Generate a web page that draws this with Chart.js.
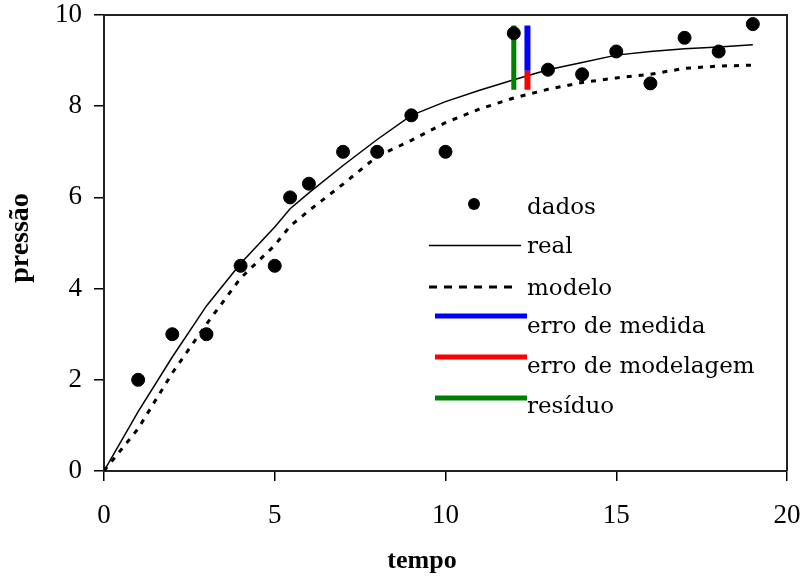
<!DOCTYPE html>
<html>
<head>
<meta charset="utf-8">
<script src="https://cdn.jsdelivr.net/npm/chart.js@4"></script>
<style>
html, body { margin: 0; padding: 0; background: #fff; }
</style>
</head>
<body>
<canvas id="chart" width="804" height="577"></canvas>
<script>
// measured points
var dataTime = [1, 2, 3, 4, 5, 5.45, 6, 7, 8, 9, 10, 12, 13, 14, 15, 16, 17, 18, 19];
var dataPressure = [2.0, 3.0, 3.0, 4.5, 4.5, 6.0, 6.3, 7.0, 7.0, 7.8, 7.0, 9.6, 8.8, 8.7, 9.2, 8.5, 9.5, 9.2, 9.8];

// curves
var curveTime = [0, 1, 2, 3, 4, 5, 5.45, 6, 7, 8, 9, 10, 11, 12, 13, 14, 15, 16, 17, 18, 19];
var realPressure = [0, 1.3, 2.5, 3.62, 4.55, 5.35, 5.75, 6.1, 6.7, 7.27, 7.8, 8.1, 8.35, 8.58, 8.8, 8.96, 9.12, 9.2, 9.26, 9.3, 9.35];
var modelPressure = [0, 0.93, 2.15, 3.22, 4.23, 4.95, 5.37, 5.71, 6.29, 6.9, 7.25, 7.64, 7.94, 8.18, 8.37, 8.52, 8.62, 8.7, 8.83, 8.88, 8.9];

// error bars: [x, yTop, yBottom]
var residuo = [12, 9.77, 8.36];
var erroMedida = [12.4, 9.77, 8.78];
var erroModelagem = [12.4, 8.78, 8.36];

var xTicks = [0, 5, 10, 15, 20];
var yTicks = [0, 2, 4, 6, 8, 10];

var toXY = function (xs, ys) {
    return xs.map((x, i) => ({x: x, y: ys[i]}));
};
var bar = function (b) {
    return [{x: b[0], y: b[1]}, {x: b[0], y: b[2]}];
};

var serif = "'Liberation Serif', 'Times New Roman', serif";

// legend, axis titles and the frame
var extras = {
    id: 'extras',
    afterDraw: function (chart) {
        var ctx = chart.ctx;
        var a = chart.chartArea;
        ctx.save();
        ctx.strokeStyle = '#222';
        ctx.lineWidth = 2;
        ctx.beginPath();
        ctx.moveTo(a.left, a.top);
        ctx.lineTo(a.right, a.top);
        ctx.lineTo(a.right, a.bottom);
        ctx.stroke();

        ctx.fillStyle = '#000';
        ctx.font = "bold 26px " + serif;
        ctx.textAlign = 'center';
        ctx.textBaseline = 'alphabetic';
        ctx.fillText('tempo', 422, 568);

        ctx.save();
        ctx.translate(28, 238);
        ctx.rotate(-Math.PI / 2);
        ctx.font = "bold 28px " + serif;
        ctx.fillText('pressão', 0, 0);
        ctx.restore();

        ctx.textAlign = 'left';
        ctx.font = "23px 'DejaVu Serif', serif";
        ctx.beginPath();
        ctx.arc(474, 204, 6, 0, Math.PI * 2);
        ctx.fill();
        ctx.fillText('dados', 527, 214);

        var seg = function (x1, x2, y, w, color, dash) {
            ctx.save();
            ctx.strokeStyle = color;
            ctx.lineWidth = w;
            ctx.setLineDash(dash || []);
            ctx.beginPath();
            ctx.moveTo(x1, y);
            ctx.lineTo(x2, y);
            ctx.stroke();
            ctx.restore();
        };
        seg(429, 521, 245.5, 1.5, '#000');
        ctx.fillText('real', 527, 253);
        seg(429, 519, 287, 3, '#000', [8, 7]);
        ctx.fillText('modelo', 527, 295);
        seg(435, 527, 316, 5, '#0000ff');
        ctx.fillText('erro de medida', 527, 333);
        seg(435, 527, 357, 5, '#ff0000');
        ctx.fillText('erro de modelagem', 527, 373);
        seg(435, 527, 398, 5, '#008000');
        ctx.fillText('resíduo', 527, 413);
        ctx.restore();
    }
};

var ctx = document.getElementById('chart');
var chart = new Chart(ctx, {
    type: 'scatter',
    data: {
        datasets: [
            {
                label: 'dados',
                data: toXY(dataTime, dataPressure),
                backgroundColor: '#000',
                borderColor: '#000',
                pointRadius: 6.5,
                pointHoverRadius: 6.5
            },
            {
                label: 'erro de medida',
                data: bar(erroMedida),
                showLine: true,
                borderColor: '#0000ff',
                borderWidth: 6,
                pointRadius: 0
            },
            {
                label: 'erro de modelagem',
                data: bar(erroModelagem),
                showLine: true,
                borderColor: '#ff0000',
                borderWidth: 6,
                pointRadius: 0
            },
            {
                label: 'resíduo',
                data: bar(residuo),
                showLine: true,
                borderColor: '#008000',
                borderWidth: 5,
                pointRadius: 0
            },
            {
                label: 'real',
                data: toXY(curveTime, realPressure),
                showLine: true,
                borderColor: '#000',
                borderWidth: 1.5,
                pointRadius: 0
            },
            {
                label: 'modelo',
                data: toXY(curveTime, modelPressure),
                showLine: true,
                borderColor: '#000',
                borderWidth: 3,
                borderDash: [5, 7],
                pointRadius: 0
            }
        ]
    },
    options: {
        responsive: false,
        animation: false,
        layout: {padding: {top: 15, right: 17, left: 0, bottom: 0}},
        plugins: {
            legend: {display: false},
            tooltip: {enabled: false}
        },
        scales: {
            x: {
                type: 'linear',
                min: 0,
                max: 20,
                afterBuildTicks: s => { s.ticks = xTicks.map(v => ({value: v})); },
                afterFit: s => {
                    s.height = 106;
                    s.paddingLeft = 0;
                    s.paddingRight = 0;
                },
                ticks: {
                    color: '#000',
                    padding: 21,
                    font: {family: serif, size: 27, lineHeight: 1}
                },
                grid: {drawOnChartArea: false, tickLength: 10, color: '#000', lineWidth: 1.5},
                border: {color: '#222', width: 2}
            },
            y: {
                min: 0,
                max: 10,
                afterBuildTicks: s => { s.ticks = yTicks.map(v => ({value: v})); },
                afterFit: s => {
                    s.width = 104;
                    s.paddingTop = 0;
                    s.paddingBottom = 0;
                },
                ticks: {
                    color: '#000',
                    padding: 12,
                    font: {family: serif, size: 27, lineHeight: 1}
                },
                grid: {drawOnChartArea: false, tickLength: 10, color: '#000', lineWidth: 1.5},
                border: {color: '#222', width: 2}
            }
        }
    },
    plugins: [extras]
});
</script>
</body>
</html>
